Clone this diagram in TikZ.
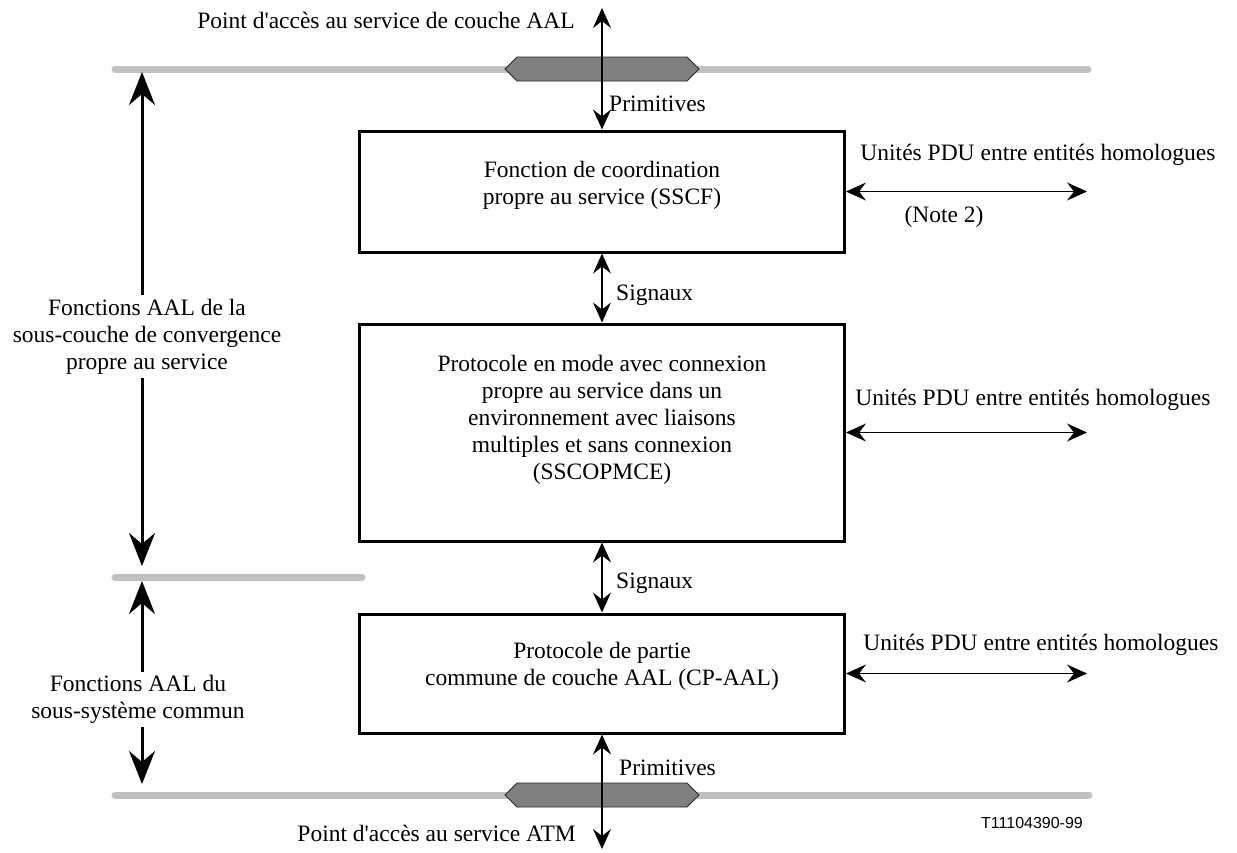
\documentclass[tikz,border=0pt]{standalone}
\usepackage{fontspec}
\setmainfont{Liberation Serif}[Ligatures=TeXOff]
\newfontfamily\figsans{Liberation Sans}
\usetikzlibrary{arrows.meta}
\definecolor{saprail}{HTML}{C0C0C0}
\definecolor{sapfill}{HTML}{808080}
\begin{document}
\begin{tikzpicture}[x=1pt,y=-1pt,
  every node/.style={font=\fontsize{23.5}{27}\selectfont, inner sep=0pt},
  layerbox/.style={draw, line width=3pt, minimum width=485pt},
  boxtext/.style={align=center},
  lbl/.style={align=center},
  rail/.style={saprail, line width=7pt, line cap=round},
  sap/.style={draw=black!85, fill=sapfill, line width=0.8pt},
  flow/.style={line width=1.3pt, {Stealth[length=20pt,width=18pt,inset=7pt]}-{Stealth[length=20pt,width=18pt,inset=7pt]}},
  span/.style={line width=3pt, -{Stealth[length=33pt,width=26pt,inset=11pt]}}
]
\useasboundingbox (0,0) rectangle (1237,852);

% service access point rails
\draw[rail] (115,69) -- (1088,69);
\draw[rail] (115,577) -- (362,577);
\draw[rail] (115,795) -- (1089,795);
\draw[sap] (505,69) -- (517,57) -- (687,57) -- (699,69) -- (687,81) -- (517,81) -- cycle;
\draw[sap] (505,795) -- (517,783) -- (687,783) -- (699,795) -- (687,807) -- (517,807) -- cycle;

% layer boxes
\node[layerbox, minimum height=121pt] (sscf) at (602,191.5) {};
\node[layerbox, minimum height=217pt] (sscop) at (602,432.5) {};
\node[layerbox, minimum height=119pt] (cpaal) at (602,673.5) {};

\node[boxtext] (sscftxt) at (602,185) {Fonction de coordination\\propre au service (SSCF)};
\node[boxtext] (ssctxt) at (602,420) {Protocole en mode avec connexion\\propre au service dans un\\environnement avec liaisons\\multiples et sans connexion\\(SSCOPMCE)};
\node[boxtext] (cptxt) at (602,666) {Protocole de partie\\commune de couche AAL (CP-AAL)};

% vertical primitives and signals
\coordinate (topend) at (602,8);
\coordinate (botend) at (602,849);
\draw[flow] (topend) -- (sscf.north);
\draw[flow] (sscf.south) -- (sscop.north);
\draw[flow] (sscop.south) -- (cpaal.north);
\draw[flow] (cpaal.south) -- (botend);

\node[anchor=west] (prim1) at (609,104) {Primitives};
\node[anchor=west] (sig1) at (616,295) {Signaux};
\node[anchor=west] (sig2) at (616,583) {Signaux};
\node[anchor=west] (prim2) at (619,768) {Primitives};
\node (sapaal) at (386,20) {Point d'accès au service de couche AAL};
\node[anchor=east] (sapatm) at (576,833) {Point d'accès au service ATM};

% peer-to-peer PDUs
\coordinate (peer1) at (1087,191.5);
\coordinate (peer2) at (1087,432.5);
\coordinate (peer3) at (1087,673.5);
\draw[flow] (sscf.east) -- (peer1);
\draw[flow] (sscop.east) -- (peer2);
\draw[flow] (cpaal.east) -- (peer3);
\node (pdu1) at (1038,155) {Unités PDU entre entités homologues};
\node (note2) at (944,217) {(Note 2)};
\node (pdu2) at (1033,400) {Unités PDU entre entités homologues};
\node (pdu3) at (1041,645) {Unités PDU entre entités homologues};

% sublayer extents
\coordinate (sscsTop) at (142,72);
\coordinate (sscsBot) at (142,566);
\coordinate (cpsTop) at (142,581);
\coordinate (cpsBot) at (142,784);
\node[lbl, minimum height=83pt] (sscslbl) at (147,336.5) {Fonctions AAL de la\\sous-couche de convergence\\propre au service};
\node[lbl, minimum height=55pt] (cpslbl) at (138,699.5) {Fonctions AAL du\\sous-système commun};
\draw[span] (sscslbl.north -| sscsTop) -- (sscsTop);
\draw[span] (sscslbl.south -| sscsBot) -- (sscsBot);
\draw[span] (cpslbl.north -| cpsTop) -- (cpsTop);
\draw[span] (cpslbl.south -| cpsBot) -- (cpsBot);

\node[font=\figsans\fontsize{16}{18}\selectfont] (ref) at (1032,823) {T11104390-99};
\end{tikzpicture}
\end{document}
